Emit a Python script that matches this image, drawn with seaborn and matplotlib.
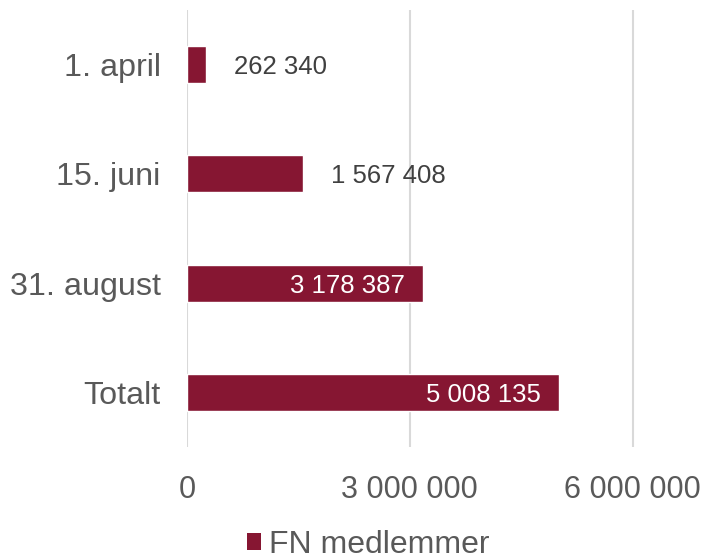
import matplotlib
matplotlib.use("Agg")
import matplotlib.pyplot as plt
import seaborn as sns
import pandas as pd
from matplotlib.patches import Patch

categories = ["1. april", "15. juni", "31. august", "Totalt"]
values = [262340, 1567408, 3178387, 5008135]
value_labels = ["262 340", "1 567 408", "3 178 387", "5 008 135"]
tick_values = [0, 3000000, 6000000]
tick_labels = ["0", "3 000 000", "6 000 000"]
series_name = "FN medlemmer"

bar_color = "#861632"
grey = "#595959"

sns.set_style("white")
plt.rcParams["font.family"] = ["Liberation Sans", "DejaVu Sans"]

df = pd.DataFrame({"kategori": categories, "antall": values})

fig = plt.figure(figsize=(7.07, 5.56), dpi=100)
ax = fig.add_axes([187 / 707, 1 - 447 / 556, 1 - 187 / 707, 437 / 556])

sns.barplot(data=df, x="antall", y="kategori", color=bar_color,
            width=0.34, saturation=1, ax=ax, zorder=3)

ax.set_xlim(0, 7000000)
ax.set_ylim(3.5, -0.5)
ax.set_xticks(tick_values)
ax.set_xticklabels(tick_labels)
ax.set_xlabel("")
ax.set_ylabel("")
ax.tick_params(axis="x", labelsize=22, colors=grey, length=0, pad=20)
ax.tick_params(axis="y", labelsize=23.2, colors=grey, length=0, pad=19)
ax.grid(axis="x", color="#D9D9D9", linewidth=1.5, zorder=0)
for s in ax.spines.values():
    s.set_visible(False)

# etiketter: utenfor for korte stolper, inni for lange
bars = ax.containers[0]
outside = [value_labels[i] if values[i] < 2000000 else "" for i in range(len(values))]
inside = [value_labels[i] if values[i] >= 2000000 else "" for i in range(len(values))]
t_out = ax.bar_label(bars, labels=outside, padding=20, fontsize=18.5, color="#404040")
t_in = ax.bar_label(bars, labels=inside, label_type="edge", padding=-13, fontsize=18.5,
                    color="white")
for t in t_in:
    t.set_ha("right")
for t in list(t_out) + list(t_in):
    t.set_va("center_baseline")

handle = Patch(facecolor=bar_color, edgecolor="none")
fig.legend([handle], [series_name], loc="center", bbox_to_anchor=(368 / 707, 1 - 545 / 556),
           frameon=False, fontsize=23, labelcolor=grey, handlelength=0.43,
           handleheight=0.43, handletextpad=0.25, borderpad=0)

fig.savefig("out.png", dpi=100)
